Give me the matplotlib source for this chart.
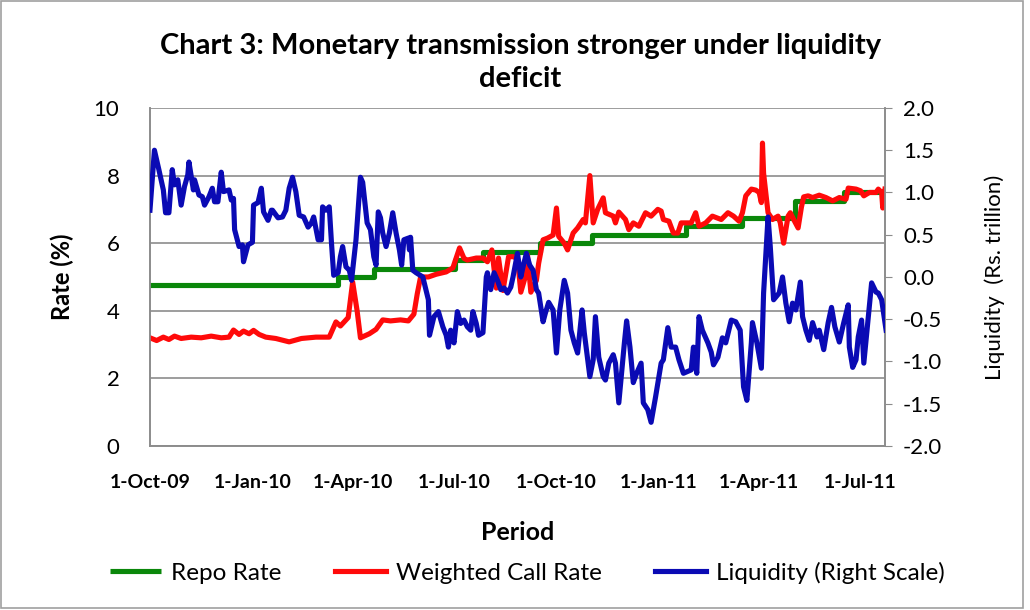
import numpy as np
import pandas as pd
import matplotlib
matplotlib.use("Agg")
import matplotlib.pyplot as plt
from matplotlib.patches import Rectangle

plt.rcParams['font.family'] = ['Lato', 'DejaVu Sans']

BASE_DATE = "2009-10-01"

# Repo rate (policy changes), %
repo_dates = ["2009-10-01", "2010-03-19", "2010-04-20", "2010-07-02", "2010-07-27",
              "2010-09-16", "2010-11-02", "2011-01-25", "2011-03-17", "2011-05-03",
              "2011-06-16", "2011-07-22"]
repo_rate = [4.75, 5.00, 5.25, 5.50, 5.75, 6.00, 6.25, 6.50, 6.75, 7.25, 7.50, 7.50]

# Weighted call rate, % (days after 1-Oct-2009)
call_day = [0, 6, 12, 17, 22, 28, 37, 46, 55, 64, 71, 75, 80, 84, 89, 93, 98, 104, 113,
            125, 136, 149, 161, 167, 171, 178, 182, 186, 189, 197, 203, 209, 216, 225,
            232, 237, 240, 243, 250, 257, 266, 272, 278, 282, 285, 293, 299, 303, 307,
            311, 313, 317, 322, 326, 330, 333, 337, 339, 342, 347, 349, 353, 357, 362,
            365, 367, 372, 375, 380, 384, 389, 391, 395, 398, 402, 407, 409, 416, 418,
            421, 427, 430, 434, 439, 445, 450, 456, 459, 461, 466, 470, 474, 477, 486,
            490, 493, 499, 505, 513, 519, 524, 529, 532, 535, 540, 544, 547, 549, 550,
            551, 555, 559, 564, 566, 569, 573, 575, 578, 582, 585, 587, 591, 595, 601,
            607, 613, 619, 625, 627, 634, 638, 641, 646, 652, 654, 657, 658, 660]
call_rate = [3.20, 3.12, 3.22, 3.15, 3.25, 3.18, 3.22, 3.20, 3.25, 3.20, 3.22, 3.43, 3.30,
             3.40, 3.32, 3.42, 3.30, 3.22, 3.18, 3.08, 3.18, 3.22, 3.22, 3.67, 3.55, 3.80,
             4.85, 4.00, 3.20, 3.32, 3.45, 3.73, 3.70, 3.73, 3.70, 3.90, 4.50, 5.00, 5.00,
             5.08, 5.15, 5.27, 5.86, 5.55, 5.50, 5.56, 5.56, 5.45, 5.80, 4.67, 5.56, 4.60,
             5.60, 5.60, 5.55, 4.55, 5.00, 5.65, 4.55, 4.90, 5.40, 6.10, 6.15, 6.24, 7.04,
             6.20, 6.00, 5.80, 6.30, 6.45, 6.70, 6.60, 8.00, 6.60, 7.00, 7.34, 6.90, 6.80,
             6.60, 6.92, 6.70, 6.40, 6.60, 6.50, 6.90, 6.80, 7.00, 6.95, 6.70, 6.65, 6.30,
             6.30, 6.60, 6.60, 6.90, 6.50, 6.60, 6.80, 6.70, 6.90, 6.80, 6.65, 6.90, 7.40,
             7.60, 7.57, 7.50, 7.20, 8.96, 8.07, 6.90, 6.70, 6.80, 6.60, 6.00, 6.80, 6.90,
             6.70, 6.45, 7.07, 7.37, 7.40, 7.35, 7.42, 7.35, 7.25, 7.35, 7.30, 7.63, 7.60,
             7.55, 7.40, 7.50, 7.50, 7.60, 7.50, 7.04, 7.60]

# Liquidity, Rs. trillion (days after 1-Oct-2009)
liq_day = [0, 4, 8, 12, 14, 17, 20, 22, 25, 28, 31, 34, 35, 39, 40, 44, 47, 49, 53, 56,
           58, 61, 64, 66, 71, 73, 75, 76, 80, 83, 84, 88, 92, 93, 97, 100, 102, 106, 109,
           110, 115, 119, 122, 125, 128, 131, 134, 138, 142, 145, 147, 151, 154, 155, 158,
           161, 163, 165, 169, 171, 173, 176, 179, 181, 185, 189, 191, 195, 198, 201, 203,
           205, 207, 209, 212, 215, 218, 221, 224, 226, 228, 232, 233, 234, 236, 239, 245,
           250, 251, 255, 259, 263, 266, 268, 270, 273, 276, 279, 282, 285, 288, 290, 293,
           295, 299, 302, 303, 306, 309, 312, 315, 318, 321, 324, 326, 330, 333, 335, 338,
           341, 344, 347, 349, 353, 355, 358, 362, 365, 368, 372, 375, 378, 381, 384, 388,
           390, 395, 398, 400, 403, 407, 409, 412, 416, 418, 421, 424, 426, 428, 431, 434,
           437, 441, 443, 447, 450, 454, 459, 461, 465, 468, 472, 475, 479, 486, 488, 491,
           493, 496, 501, 504, 506, 510, 514, 517, 522, 526, 530, 533, 536, 540, 541, 545,
           549, 551, 555, 557, 560, 565, 568, 571, 574, 577, 580, 584, 586, 589, 592, 595,
           599, 601, 605, 609, 612, 615, 619, 623, 627, 628, 631, 634, 636, 639, 641, 645,
           648, 652, 654, 657, 661]
liquidity = [0.79, 1.50, 1.27, 1.03, 0.76, 0.76, 1.27, 1.09, 1.15, 0.85, 1.07, 1.21, 1.36,
             1.03, 1.15, 0.97, 0.95, 0.85, 0.95, 1.05, 0.89, 0.89, 1.24, 1.01, 1.03, 0.91,
             0.93, 0.56, 0.36, 0.38, 0.18, 0.38, 0.41, 0.85, 0.88, 1.05, 0.77, 0.67, 0.79,
             0.79, 0.70, 0.71, 0.79, 1.05, 1.18, 1.01, 0.73, 0.71, 0.59, 0.64, 0.71, 0.44,
             0.44, 0.83, 0.79, 0.83, 0.40, 0.02, 0.05, 0.24, 0.36, 0.12, 0.08, -0.04, 0.44,
             1.18, 1.12, 0.64, 0.56, 0.24, 0.14, 0.77, 0.70, 0.52, 0.36, 0.52, 0.76, 0.52,
             0.32, 0.14, 0.44, 0.46, 0.32, 0.47, 0.08, 0.05, 0.00, -0.27, -0.69, -0.47,
             -0.41, -0.59, -0.69, -0.83, -0.63, -0.78, -0.41, -0.55, -0.51, -0.59, -0.63,
             -0.41, -0.55, -0.69, -0.66, 0.00, 0.05, -0.15, 0.05, -0.04, -0.15, -0.13,
             -0.19, -0.12, 0.00, 0.28, 0.00, 0.12, 0.28, 0.14, 0.08, -0.15, -0.19, -0.53,
             -0.43, -0.30, -0.39, -0.90, -0.39, -0.04, -0.19, -0.63, -0.78, -0.90, -0.39,
             -0.66, -1.18, -0.98, -0.47, -0.95, -1.18, -1.22, -1.02, -0.92, -1.02, -1.49,
             -1.06, -0.78, -0.52, -0.83, -1.25, -1.14, -1.02, -1.49, -1.57, -1.72, -1.42,
             -1.02, -0.98, -0.60, -0.83, -0.83, -0.98, -1.14, -1.10, -0.83, -1.14, -0.47,
             -0.63, -0.78, -0.89, -1.04, -0.95, -0.72, -0.78, -0.51, -0.53, -0.63, -1.30,
             -1.46, -0.78, -0.54, -0.78, -1.08, -0.19, 0.71, 0.36, -0.27, -0.19, 0.00,
             -0.31, -0.53, -0.31, -0.39, -0.06, -0.47, -0.63, -0.75, -0.54, -0.71, -0.63,
             -0.86, -0.54, -0.36, -0.59, -0.77, -0.54, -0.33, -0.83, -1.07, -0.98, -0.71,
             -0.51, -1.02, -0.47, -0.07, -0.18, -0.19, -0.27, -0.63]

tick_dates = ["2009-10-01", "2010-01-01", "2010-04-01", "2010-07-01", "2010-10-01",
              "2011-01-01", "2011-04-01", "2011-07-01"]
tick_labels = ["1-Oct-09", "1-Jan-10", "1-Apr-10", "1-Jul-10", "1-Oct-10", "1-Jan-11",
               "1-Apr-11", "1-Jul-11"]
x_start, x_end = "2009-10-01", "2011-07-23"

base = pd.Timestamp(BASE_DATE)
call_dates = base + pd.to_timedelta(call_day, unit="D")
liq_dates = base + pd.to_timedelta(liq_day, unit="D")
repo_dt = pd.to_datetime(repo_dates)

GRAY = "#8c8c8c"
LW = 3.7
fig = plt.figure(figsize=(10.3, 6.1), dpi=100)
fig.patches.append(Rectangle((0.001, 0.004), 0.992, 0.994, transform=fig.transFigure,
                             fill=False, edgecolor="#a0a0a0", lw=1.2))
ax = fig.add_axes([0.1456, 0.2689, 0.7136, 0.5541])
ax2 = ax.twinx()

ax.plot(repo_dt, repo_rate, color="#0a870a", lw=LW, drawstyle="steps-post",
        label="Repo Rate", zorder=3, solid_capstyle="butt")
ax.plot(call_dates, call_rate, color="#ff0a0a", lw=LW, label="Weighted Call Rate",
        zorder=4, solid_joinstyle="round")
ax2.plot(liq_dates, liquidity, color="#0a0ab4", lw=LW, label="Liquidity (Right Scale)",
         zorder=5, solid_joinstyle="round")

ax.set_xlim(pd.Timestamp(x_start), pd.Timestamp(x_end))
ax.set_ylim(0, 10)
ax.set_yticks(np.arange(0, 11, 2))
ax2.set_ylim(-2, 2)
ax2.set_yticks(np.arange(-2, 2.01, 0.5))
ax2.set_yticklabels([f"{v:.1f}" for v in np.arange(-2, 2.01, 0.5)])
ax.set_xticks(pd.to_datetime(tick_dates))
ax.set_xticklabels(tick_labels, fontweight="bold")

ax.yaxis.grid(True, color=GRAY, lw=1.2)
ax.set_axisbelow(True)
for a in (ax, ax2):
    a.spines["top"].set_visible(False)
    for s in ("left", "right", "bottom"):
        a.spines[s].set_color(GRAY)
        a.spines[s].set_linewidth(1.2)
ax.tick_params(axis="x", length=0, pad=20, labelsize=14)
ax.tick_params(axis="y", length=0, pad=22, labelsize=16)
ax2.tick_params(axis="y", direction="out", length=5, color=GRAY, pad=8, labelsize=16)

ax.set_ylabel("Rate (%)", fontsize=17, fontweight="bold", labelpad=14)
ax2.set_ylabel("Liquidity  (Rs. trillion)", fontsize=16, labelpad=30)
ax.set_xlabel("Period", fontsize=18, fontweight="bold", labelpad=22)

fig.text(0.505, 0.898, "Chart 3: Monetary transmission stronger under liquidity\ndeficit",
         ha="center", va="center", fontsize=21, fontweight="bold", linespacing=1.35)

h1, l1 = ax.get_legend_handles_labels()
h2, l2 = ax2.get_legend_handles_labels()
fig.legend(h1 + h2, l1 + l2, loc="center", bbox_to_anchor=(0.512, 0.061), ncol=3,
           frameon=False, fontsize=17.5, handlelength=2.1, handletextpad=0.4,
           columnspacing=2.2)

fig.savefig("out.png", dpi=100)
